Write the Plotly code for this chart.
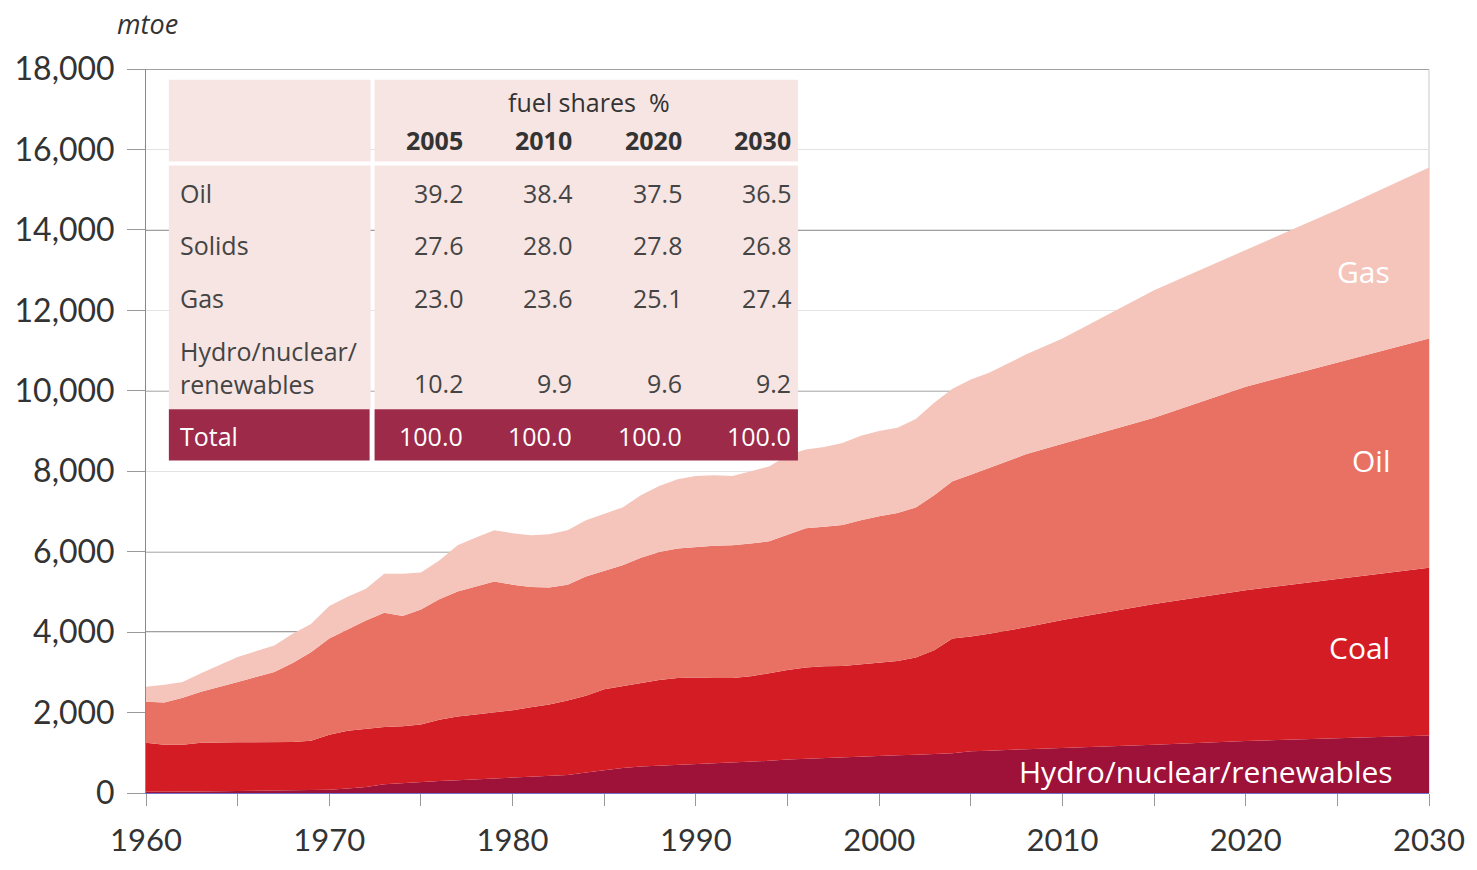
import plotly.graph_objects as go

# ---- data (mtoe, cumulative tops) ----
years = [1960, 1961, 1962, 1963, 1965, 1967, 1968, 1969, 1970, 1971, 1972, 1973, 1974, 1975,
         1976, 1977, 1978, 1979, 1980, 1981, 1982, 1983, 1984, 1985, 1986, 1987, 1988, 1989,
         1990, 1991, 1992, 1993, 1994, 1995, 1996, 1997, 1998, 1999, 2000, 2001, 2002, 2003,
         2004, 2005, 2006, 2008, 2010, 2015, 2020, 2025, 2030]
hydro_top = [30, 30, 40, 40, 50, 60, 60, 70, 80, 110, 150, 220, 250, 280,
             300, 320, 340, 370, 390, 410, 420, 450, 510, 570, 620, 660, 680, 690,
             720, 740, 760, 780, 800, 830, 850, 870, 880, 900, 930, 940, 950, 970,
             990, 1040, 1050, 1090, 1120, 1200, 1290, 1360, 1430]
coal_top = [1250, 1200, 1200, 1250, 1260, 1270, 1270, 1300, 1450, 1550, 1600, 1640, 1660, 1700,
            1820, 1900, 1950, 2000, 2060, 2130, 2200, 2300, 2420, 2580, 2660, 2740, 2810, 2860,
            2870, 2860, 2860, 2900, 2980, 3060, 3120, 3150, 3160, 3200, 3240, 3280, 3370, 3550,
            3840, 3890, 3960, 4120, 4300, 4700, 5040, 5320, 5600]
oil_top = [2270, 2250, 2370, 2520, 2760, 3010, 3230, 3500, 3840, 4060, 4290, 4480, 4400, 4560,
           4820, 5010, 5140, 5260, 5180, 5120, 5110, 5180, 5380, 5520, 5660, 5850, 5990, 6080,
           6120, 6150, 6160, 6200, 6260, 6420, 6580, 6620, 6660, 6780, 6880, 6960, 7100, 7400,
           7750, 7910, 8080, 8420, 8680, 9330, 10100, 10700, 11300]
total = [2640, 2690, 2760, 2980, 3380, 3670, 3960, 4200, 4650, 4880, 5080, 5450, 5450, 5480,
         5780, 6160, 6350, 6530, 6460, 6410, 6430, 6530, 6780, 6950, 7100, 7400, 7630, 7800,
         7880, 7900, 7880, 8000, 8120, 8400, 8540, 8600, 8700, 8880, 9000, 9080, 9300, 9700,
         10050, 10280, 10450, 10900, 11300, 12500, 13500, 14500, 15550]

hydro = hydro_top
coal = [c - h for c, h in zip(coal_top, hydro_top)]
oil = [o - c for o, c in zip(oil_top, coal_top)]
gas = [t - o for t, o in zip(total, oil_top)]

series_names = ["Hydro/nuclear/renewables", "Coal", "Oil", "Gas"]
series_values = [hydro, coal, oil, gas]
series_colors = ["#9E1139", "#D41C24", "#E97163", "#F5C5BB"]

# inset table
table_years = ["2005", "2010", "2020", "2030"]
table_rows = ["Oil", "Solids", "Gas", "Hydro/nuclear/<br>renewables"]
table_values = [
    ["39.2", "38.4", "37.5", "36.5"],
    ["27.6", "28.0", "27.8", "26.8"],
    ["23.0", "23.6", "25.1", "27.4"],
    ["10.2", "9.9", "9.6", "9.2"],
]
table_total = ["100.0", "100.0", "100.0", "100.0"]

dark_grid = [4000, 6000, 10000, 14000, 18000]

W, H = 1477, 870
L, R, T, B = 146, 1437, 69, 805   # plot-area pixel edges


def px(x):
    return (x - L) / (R - L)


def py(y):
    return (B - y) / (B - T)


fig = go.Figure()
for name, vals, col in zip(series_names, series_values, series_colors):
    fig.add_trace(go.Scatter(
        x=years, y=vals, name=name, stackgroup="one", mode="lines",
        line=dict(width=0, color=col), fillcolor=col, hoverinfo="skip",
    ))

shapes = []
for v in dark_grid:
    shapes.append(dict(type="line", xref="paper", yref="y", x0=0, x1=1, y0=v, y1=v,
                       line=dict(color="#808080", width=1.5), layer="below"))
# right border
shapes.append(dict(type="line", xref="paper", yref="paper", x0=1, x1=1, y0=0, y1=1,
                   line=dict(color="#c8c8c8", width=1), layer="below"))

# table backgrounds
pink = "#F6E5E3"
crim = "#9C2A48"
shapes += [
    dict(type="rect", xref="paper", yref="paper", x0=px(169), x1=px(372), y0=py(415), y1=py(80),
         fillcolor=pink, line=dict(width=0), layer="above"),
    dict(type="rect", xref="paper", yref="paper", x0=px(376), x1=px(802), y0=py(415), y1=py(80),
         fillcolor=pink, line=dict(width=0), layer="above"),
    dict(type="rect", xref="paper", yref="paper", x0=px(169), x1=px(371), y0=py(467), y1=py(415),
         fillcolor=crim, line=dict(width=0), layer="above"),
    dict(type="rect", xref="paper", yref="paper", x0=px(376), x1=px(802), y0=py(467), y1=py(415),
         fillcolor=crim, line=dict(width=0), layer="above"),
    dict(type="line", xref="paper", yref="paper", x0=px(169), x1=px(802), y0=py(165), y1=py(165),
         line=dict(color="white", width=4), layer="above"),
]

annotations = []
tfont = "Open Sans"
TS = 25
annotations.append(dict(text="fuel shares  %", xref="paper", yref="paper", x=px(592), y=py(103),
                        xanchor="center", yanchor="middle", showarrow=False,
                        font=dict(family=tfont, size=TS, color="#333333")))
col_right = [467, 577, 687, 797]
for yr, xr in zip(table_years, col_right):
    annotations.append(dict(text="<b>" + yr + "</b>", xref="paper", yref="paper", x=px(xr), y=py(141),
                            xanchor="right", yanchor="middle", showarrow=False,
                            font=dict(family=tfont, size=TS, color="#333333")))
row_label_y = [195, 248, 302, 372]
row_value_y = [195, 248, 302, 388]
for lab, ly, vy, vals in zip(table_rows, row_label_y, row_value_y, table_values):
    annotations.append(dict(text=lab, xref="paper", yref="paper", x=px(178), y=py(ly),
                            xanchor="left", yanchor="middle", align="left", showarrow=False,
                            font=dict(family=tfont, size=TS, color="#444444")))
    for v, xr in zip(vals, col_right):
        annotations.append(dict(text=v, xref="paper", yref="paper", x=px(xr), y=py(vy),
                                xanchor="right", yanchor="middle", showarrow=False,
                                font=dict(family=tfont, size=TS, color="#444444")))
annotations.append(dict(text="Total", xref="paper", yref="paper", x=px(178), y=py(442),
                        xanchor="left", yanchor="middle", showarrow=False,
                        font=dict(family=tfont, size=TS, color="white")))
for v, xr in zip(table_total, col_right):
    annotations.append(dict(text=v, xref="paper", yref="paper", x=px(xr), y=py(442),
                            xanchor="right", yanchor="middle", showarrow=False,
                            font=dict(family=tfont, size=TS, color="white")))

# series labels
lab_font = dict(family="Open Sans", size=30, color="white")
for txt, yy, xr in [("Gas", 275, 1400), ("Oil", 467, 1400), ("Coal", 657, 1400),
                    ("Hydro/nuclear/renewables", 783, 1403)]:
    annotations.append(dict(text=txt, xref="paper", yref="paper", x=px(xr), y=py(yy),
                            xanchor="right", yanchor="middle", showarrow=False, font=lab_font))

annotations.append(dict(text="<i>mtoe</i>", xref="paper", yref="paper", x=px(148), y=py(23),
                        xanchor="center", yanchor="middle", showarrow=False,
                        font=dict(family="Open Sans", size=27, color="#333333")))

fig.update_layout(
    width=W, height=H,
    margin=dict(l=L, r=W - R, t=T, b=H - B, pad=0),
    paper_bgcolor="white", plot_bgcolor="white",
    showlegend=False,
    shapes=shapes, annotations=annotations,
    xaxis=dict(range=[1960, 2030], tickvals=list(range(1960, 2031, 10)),
               ticks="outside", ticklen=12, tickcolor="#999999", tickwidth=1,
               minor=dict(tickvals=list(range(1965, 2030, 10)), ticks="outside", ticklen=12,
                          tickcolor="#999999", tickwidth=1, showgrid=False),
               showgrid=False, zeroline=False, showline=True, linecolor="#7070c8", linewidth=1,
               tickfont=dict(family="Lato", size=31, color="#333333"), ticklabelstandoff=8),
    yaxis=dict(range=[0, 18000], dtick=2000, tickformat=",",
               ticks="outside", ticklen=18, tickcolor="#9a9a9a", tickwidth=1,
               showgrid=True, gridcolor="#e3e3e3", gridwidth=1, zeroline=False,
               showline=True, linecolor="#8a8a8a", linewidth=1,
               tickfont=dict(family="Lato", size=32, color="#333333"), ticklabelstandoff=6),
)

fig.write_html("out.html", config={"displayModeBar": False},
               post_script="document.body.style.margin='0';document.body.style.overflow='hidden';")
